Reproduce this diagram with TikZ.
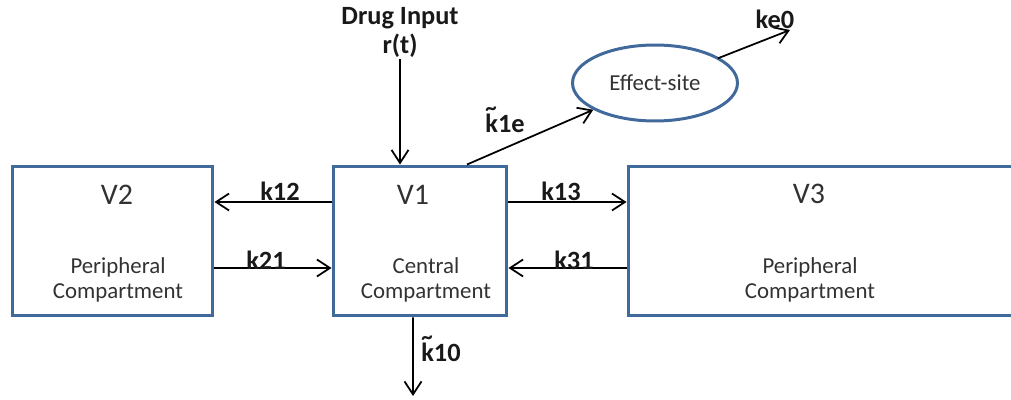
\documentclass[tikz,border=0pt]{standalone}
\usepackage{fontspec}
\setmainfont{Carlito}
\usepackage{tikz}
\usetikzlibrary{arrows.meta,shapes.geometric,positioning,calc}
\usepackage{xcolor}
\definecolor{compblue}{RGB}{65,105,155}
\definecolor{txtgray}{RGB}{50,50,50}
\newcommand{\tk}{\makebox[0pt][l]{\raisebox{0.62em}{\fontsize{13}{13}\selectfont\textasciitilde}}k}

\begin{document}
\begin{tikzpicture}[x=0.02cm, y=-0.02cm,
    comp/.style={draw=compblue, line width=1.7pt, minimum height=3cm, inner sep=0pt},
    vname/.style={font=\fontsize{17}{18}\selectfont, text=txtgray},
    desc/.style={font=\fontsize{13}{14.5}\selectfont, text=txtgray, align=center},
    rate/.style={font=\bfseries\fontsize{15}{16}\selectfont, text=black!90},
    flow/.style={line width=1pt, -{Straight Barb[length=2.6mm, width=3.4mm, line width=1pt]}}]
  \clip (0,0) rectangle (1011,399);

  % compartments
  \node[comp, minimum width=4.02cm] (V2) at (112.5,241) {};
  \node[comp, minimum width=3.48cm] (V1) at (420,241) {};
  \node[comp, minimum width=8.4cm] (V3) at (838,241) {};
  \node[draw=compblue, line width=1.7pt, ellipse, minimum width=3.3cm, minimum height=1.52cm,
    inner sep=0pt, font=\fontsize{13}{14}\selectfont, text=txtgray] (eff) at (655,83) {Effect-site};

  \node[vname] (V2name) at (117,195) {V2};
  \node[vname] (V1name) at (413,195) {V1};
  \node[vname] (V3name) at (809,194) {V3};
  \node[desc] (V2desc) at (118,280) {Peripheral\\Compartment};
  \node[desc] (V1desc) at (426,280) {Central\\Compartment};
  \node[desc] (V3desc) at (810,280) {Peripheral\\Compartment};

  % input and elimination
  \node[rate, align=center, font=\bfseries\fontsize{15}{16.5}\selectfont, inner sep=1pt] (drug) at (400,32) {Drug Input\\r(t)};
  \coordinate (out10) at (413,396);
  \coordinate (ke0end) at (790,30);
  \draw[flow] (drug) -- (drug |- V1.north);
  \draw[flow] ([xshift=-0.14cm]V1.south) -- (out10);
  \draw[flow] ([xshift=0.94cm]V1.north) -- (eff);
  \draw[flow, shorten <=-1pt] (eff) -- (ke0end);

  % exchange between compartments
  \draw[flow] ([yshift=0.78cm]V1.west) -- ([yshift=0.78cm]V2.east);
  \draw[flow] ([yshift=-0.54cm]V2.east) -- ([yshift=-0.54cm]V1.west);
  \draw[flow] ([yshift=0.78cm]V1.east) -- ([yshift=0.78cm]V3.west);
  \draw[flow] ([yshift=-0.54cm]V3.west) -- ([yshift=-0.54cm]V1.east);

  \node[rate] (k12) at (280,191) {k12};
  \node[rate] (k21) at (266,260) {k21};
  \node[rate] (k13) at (561,191) {k13};
  \node[rate] (k31) at (574,260) {k31};
  \node[rate] (k1e) at (505,120) {\tk1e};
  \node[rate] (k10) at (441,349) {\tk10};
  \node[rate] (ke0) at (775,19) {ke0};
\end{tikzpicture}
\end{document}
